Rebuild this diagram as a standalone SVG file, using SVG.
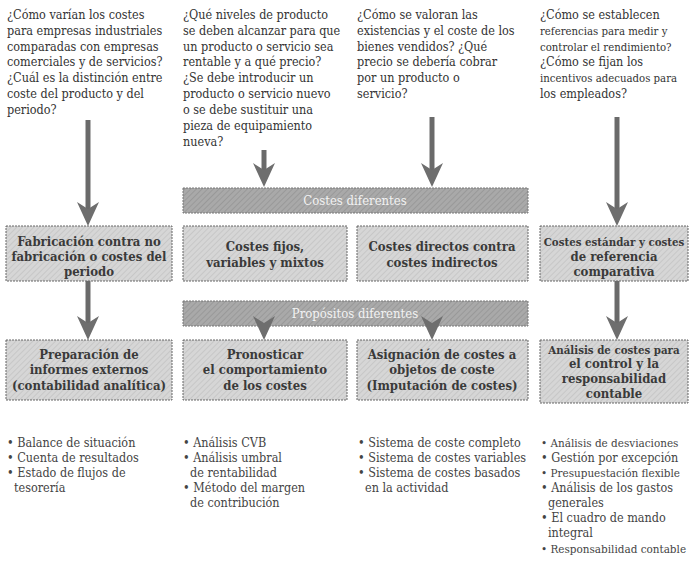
<svg xmlns="http://www.w3.org/2000/svg" width="690" height="565" viewBox="0 0 690 565">
<defs>
  <pattern id="hatchBox" patternUnits="userSpaceOnUse" width="4" height="4" patternTransform="rotate(45)">
    <rect width="4" height="4" fill="#d6d6d6"/>
    <line x1="0" y1="0" x2="0" y2="4" stroke="#c2c2c2" stroke-width="1.5"/>
  </pattern>
  <pattern id="hatchBan" patternUnits="userSpaceOnUse" width="4" height="4" patternTransform="rotate(45)">
    <rect width="4" height="4" fill="#a9a9a9"/>
    <line x1="0" y1="0" x2="0" y2="4" stroke="#949494" stroke-width="1.5"/>
  </pattern>
  <marker id="ah" markerUnits="userSpaceOnUse" markerWidth="24" markerHeight="22" viewBox="0 0 24 22" refX="13" refY="11" orient="auto">
    <path d="M24,11 L0,0 L7,11 L0,22 Z" fill="#6e6e6e"/>
  </marker>
</defs>
<style>
  text { font-family: "DejaVu Serif Condensed", "DejaVu Serif", serif; font-stretch: condensed; }
  .q { font-size: 12.5px; fill: #333; }
  .b { font-size: 12.5px; fill: #444; }
  .q4 { font-size: 11.3px; }
  .b4 { font-size: 11.6px; }
  .box { fill: url(#hatchBox); stroke: #666; stroke-width: 1; stroke-dasharray: 2 1; }
  .ban { fill: url(#hatchBan); stroke: #777; stroke-width: 1; stroke-dasharray: 2 1; }
  .bt { font-size: 13px; font-weight: bold; fill: #3a3a3a; text-anchor: middle; }
  .bt4 { font-size: 11.4px; }
  .wt { font-size: 13px; fill: #f2f2f2; text-anchor: middle; }
  .arr { stroke: #6a6a6a; stroke-width: 5; fill: none; marker-end: url(#ah); }
</style>
<rect width="690" height="565" fill="#ffffff"/>

<g id="questions">
  <text class="q" x="7" y="19">¿Cómo varían los costes</text>
  <text class="q" x="7" y="35">para empresas industriales</text>
  <text class="q" x="7" y="51">comparadas con empresas</text>
  <text class="q" x="7" y="66">comerciales y de servicios?</text>
  <text class="q" x="7" y="82">¿Cuál es la distinción entre</text>
  <text class="q" x="7" y="98">coste del producto y del</text>
  <text class="q" x="7" y="114">periodo?</text>

  <text class="q" x="183" y="19">¿Qué niveles de producto</text>
  <text class="q" x="183" y="35">se deben alcanzar para que</text>
  <text class="q" x="183" y="51">un producto o servicio sea</text>
  <text class="q" x="183" y="66">rentable y a qué precio?</text>
  <text class="q" x="183" y="82">¿Se debe introducir un</text>
  <text class="q" x="183" y="98">producto o servicio nuevo</text>
  <text class="q" x="183" y="114">o se debe sustituir una</text>
  <text class="q" x="183" y="130">pieza de equipamiento</text>
  <text class="q" x="183" y="146">nueva?</text>

  <text class="q" x="357" y="19">¿Cómo se valoran las</text>
  <text class="q" x="357" y="35">existencias y el coste de los</text>
  <text class="q" x="357" y="51">bienes vendidos? ¿Qué</text>
  <text class="q" x="357" y="66">precio se debería cobrar</text>
  <text class="q" x="357" y="82">por un producto o</text>
  <text class="q" x="357" y="98">servicio?</text>

  <text class="q" x="540" y="19">¿Cómo se establecen</text>
  <text class="q q4" x="540" y="35">referencias para medir y</text>
  <text class="q q4" x="540" y="51">controlar el rendimiento?</text>
  <text class="q" x="540" y="66">¿Cómo se fijan los</text>
  <text class="q q4" x="540" y="82">incentivos adecuados para</text>
  <text class="q" x="540" y="98">los empleados?</text>
</g>

<g id="banner-costes">
  <rect class="ban" x="183" y="188" width="345" height="25"/>
  <text class="wt" x="355" y="205">Costes diferentes</text>
</g>
<g id="banner-propositos">
  <rect class="ban" x="183" y="301" width="345" height="25"/>
  <text class="wt" x="355" y="318">Propósitos diferentes</text>
</g>

<g id="box-fabricacion">
  <rect class="box" x="6" y="226" width="166" height="55"/>
  <text class="bt" x="89" y="246">Fabricación contra no</text>
  <text class="bt" x="89" y="261">fabricación o costes del</text>
  <text class="bt" x="89" y="276">periodo</text>
</g>
<g id="box-fijos">
  <rect class="box" x="183" y="226" width="164" height="55"/>
  <text class="bt" x="265" y="251">Costes fijos,</text>
  <text class="bt" x="265" y="267">variables y mixtos</text>
</g>
<g id="box-directos">
  <rect class="box" x="357" y="226" width="171" height="55"/>
  <text class="bt" x="442" y="251">Costes directos contra</text>
  <text class="bt" x="442" y="267">costes indirectos</text>
</g>
<g id="box-estandar">
  <rect class="box" x="540" y="226" width="148" height="55"/>
  <text class="bt bt4" x="614" y="246">Costes estándar y costes</text>
  <text class="bt" x="614" y="261">de referencia</text>
  <text class="bt" x="614" y="276">comparativa</text>
</g>

<g id="box-informes">
  <rect class="box" x="6" y="340" width="166" height="60"/>
  <text class="bt" x="89" y="359">Preparación de</text>
  <text class="bt" x="89" y="374">informes externos</text>
  <text class="bt" x="89" y="390">(contabilidad analítica)</text>
</g>
<g id="box-pronosticar">
  <rect class="box" x="183" y="340" width="164" height="60"/>
  <text class="bt" x="265" y="359">Pronosticar</text>
  <text class="bt" x="265" y="374">el comportamiento</text>
  <text class="bt" x="265" y="390">de los costes</text>
</g>
<g id="box-asignacion">
  <rect class="box" x="357" y="340" width="171" height="60"/>
  <text class="bt" x="442" y="359">Asignación de costes a</text>
  <text class="bt" x="442" y="374">objetos de coste</text>
  <text class="bt" x="442" y="390">(Imputación de costes)</text>
</g>
<g id="box-analisis">
  <rect class="box" x="540" y="340" width="148" height="63"/>
  <text class="bt bt4" x="614" y="354">Análisis de costes para</text>
  <text class="bt" x="614" y="368">el control y la</text>
  <text class="bt" x="614" y="383">responsabilidad</text>
  <text class="bt" x="614" y="398">contable</text>
</g>

<g id="lists">
  <text class="b" x="7" y="447">• Balance de situación</text>
  <text class="b" x="7" y="462">• Cuenta de resultados</text>
  <text class="b" x="7" y="477">• Estado de flujos de</text>
  <text class="b" x="14" y="492">tesorería</text>

  <text class="b" x="183" y="447">• Análisis CVB</text>
  <text class="b" x="183" y="462">• Análisis umbral</text>
  <text class="b" x="190" y="477">de rentabilidad</text>
  <text class="b" x="183" y="492">• Método del margen</text>
  <text class="b" x="190" y="507">de contribución</text>

  <text class="b" x="358" y="447">• Sistema de coste completo</text>
  <text class="b" x="358" y="462">• Sistema de costes variables</text>
  <text class="b" x="358" y="477">• Sistema de costes basados</text>
  <text class="b" x="365" y="492">en la actividad</text>

  <text class="b b4" x="541" y="447">• Análisis de desviaciones</text>
  <text class="b" x="541" y="462">• Gestión por excepción</text>
  <text class="b b4" x="541" y="477">• Presupuestación flexible</text>
  <text class="b" x="541" y="492">• Análisis de los gastos</text>
  <text class="b" x="548" y="507">generales</text>
  <text class="b" x="541" y="522">• El cuadro de mando</text>
  <text class="b" x="548" y="537">integral</text>
  <text class="b b4" x="541" y="553">• Responsabilidad contable</text>
</g>

<g id="connectors">
  <line class="arr" x1="88" y1="120" x2="88" y2="215"/>
  <line class="arr" x1="264" y1="150" x2="264" y2="176"/>
  <line class="arr" x1="432" y1="117" x2="432" y2="176"/>
  <line class="arr" x1="617" y1="117" x2="617" y2="215"/>
  <line class="arr" x1="88" y1="281" x2="88" y2="329"/>
  <line class="arr" x1="617" y1="281" x2="617" y2="329"/>
  <line class="arr" x1="264" y1="326" x2="264" y2="329"/>
  <line class="arr" x1="432" y1="326" x2="432" y2="329"/>
</g>
</svg>
